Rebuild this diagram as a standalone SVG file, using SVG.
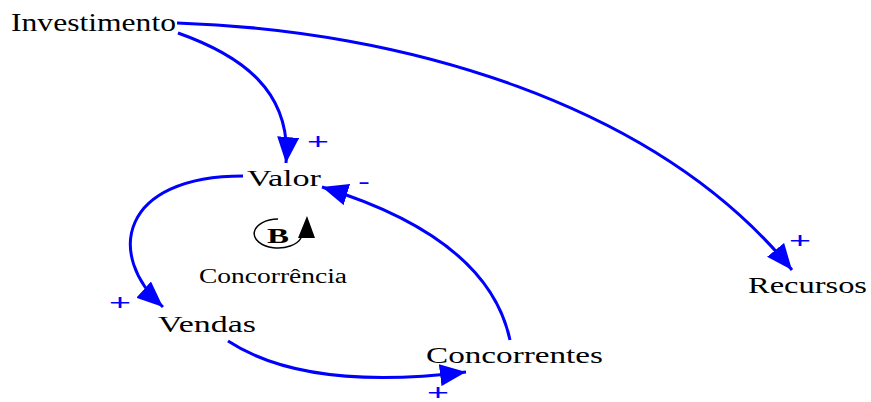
<svg xmlns="http://www.w3.org/2000/svg" width="871" height="402" viewBox="0 0 871 402">
<style>
.lbl{font-family:"Liberation Serif","Times New Roman",serif;font-size:24px;fill:#000}
.pol{font-family:"Liberation Sans",Arial,sans-serif;font-size:22px;fill:#0000ff}
.link{fill:none;stroke:#0000ff;stroke-width:3}
</style>
<defs>
<marker id="ah" markerUnits="userSpaceOnUse" markerWidth="28" markerHeight="22" refX="26" refY="11" orient="auto">
<path d="M0,0 L26,11 L0,22 z" fill="#0000ff"/>
</marker>
</defs>
<rect width="871" height="402" fill="#fff"/>
<g id="connectors">
<path class="link" d="M178,33 C240,55 292,90 286,163" marker-end="url(#ah)"/>
<path class="link" d="M177,23 C400,30 655,102 792,270" marker-end="url(#ah)"/>
<path class="link" d="M243,176 C120,176 105,255 163,307" marker-end="url(#ah)"/>
<path class="link" d="M228,341 C280,375 360,385 466,372" marker-end="url(#ah)"/>
<path class="link" d="M510,340 C495,270 430,220 322,187" marker-end="url(#ah)"/>
<text class="pol" x="307" y="149" textLength="22" lengthAdjust="spacingAndGlyphs">+</text>
<text class="pol" x="358" y="189" textLength="12" lengthAdjust="spacingAndGlyphs">-</text>
<text class="pol" x="109" y="310" textLength="22" lengthAdjust="spacingAndGlyphs">+</text>
<text class="pol" x="427" y="400" textLength="22" lengthAdjust="spacingAndGlyphs">+</text>
<text class="pol" x="789" y="248" textLength="22" lengthAdjust="spacingAndGlyphs">+</text>
</g>
<g id="Investimento"><text class="lbl" x="11" y="31" textLength="165" lengthAdjust="spacingAndGlyphs" style="font-size:25px">Investimento</text></g>
<g id="Valor"><text class="lbl" x="247" y="186" textLength="74" lengthAdjust="spacingAndGlyphs">Valor</text></g>
<g id="Vendas"><text class="lbl" x="158" y="332" textLength="98" lengthAdjust="spacingAndGlyphs">Vendas</text></g>
<g id="Concorrentes"><text class="lbl" x="426" y="363" textLength="177" lengthAdjust="spacingAndGlyphs">Concorrentes</text></g>
<g id="Recursos"><text class="lbl" x="748" y="293" textLength="119" lengthAdjust="spacingAndGlyphs">Recursos</text></g>
<g id="loop-B">
<path d="M278,219 A24,14.5 0 1 0 301,238" fill="none" stroke="#000" stroke-width="1.5"/>
<path d="M298,238 L307,216 L315,238 z" fill="#000"/>
<text x="267" y="243" font-family="'Liberation Serif','Times New Roman',serif" font-size="21" font-weight="bold" textLength="22" lengthAdjust="spacingAndGlyphs">B</text>
<text class="lbl" x="199" y="283" style="font-size:20px" textLength="148" lengthAdjust="spacingAndGlyphs">Concorrência</text>
</g>
</svg>
